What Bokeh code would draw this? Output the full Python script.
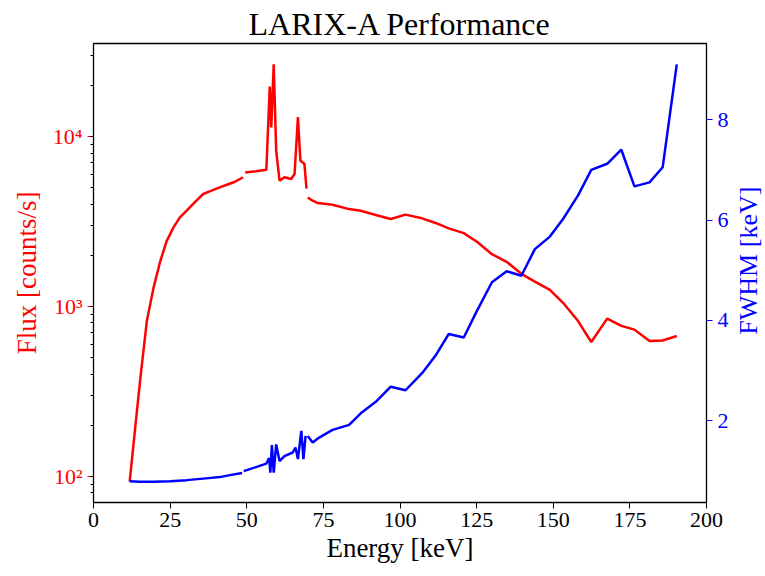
import math
import numpy as np
from bokeh.plotting import figure
from bokeh.layouts import row
from bokeh.models import Range1d, LinearAxis, LinearScale, FixedTicker, LogTicker, CustomJSTickFormatter
from bokeh.core.properties import value
from bokeh.embed import file_html
from bokeh.resources import INLINE

# ---- data ----
flux_e1 = [11.8, 13.6, 15.3, 17.4, 19.6, 21.8, 23.9, 26.1, 28.2, 30.4, 33.0, 35.8, 38.5, 41.2, 43.5, 46.0, 48.8]
flux_v1 = [93, 193, 380, 820, 1290, 1850, 2430, 2920, 3340, 3660, 4100, 4590, 4800, 5020, 5200, 5400, 5760]
flux_e2 = [49.5, 53.0, 56.4, 57.5, 58.0, 58.8, 59.6, 60.7, 62.3, 64.5, 65.6, 66.7, 67.5, 68.8, 69.5]
flux_v2 = [6150, 6250, 6380, 19700, 11300, 26600, 8260, 5500, 5760, 5630, 6020, 13000, 7210, 6920, 4930]
flux_e3 = [69.9, 71.5, 73.2, 78.0, 83.4, 87.2, 92.1, 97.0, 101.8, 107.2, 111.6, 115.9, 120.8, 125.1,
           130.0, 134.8, 139.6, 144.0, 148.9, 153.2, 158.1, 162.4, 167.6, 172.2, 176.5, 181.4, 185.7, 190.3]
flux_v3 = [4380, 4190, 4060, 3970, 3740, 3660, 3450, 3270, 3470, 3300, 3100, 2880, 2700, 2400,
           2030, 1830, 1555, 1400, 1250, 1050, 820, 617, 847, 768, 730, 625, 630, 670]

fwhm_e1 = [11.8, 15.0, 19.6, 25.0, 30.4, 35.8, 41.2, 44.5, 48.5]
fwhm_v1 = [0.80, 0.79, 0.79, 0.80, 0.82, 0.85, 0.88, 0.92, 0.96]
fwhm_e2 = [49.0, 53.0, 56.4, 57.3, 57.7, 58.2, 58.8, 59.6, 60.7, 62.3, 65.0, 65.9, 66.7, 67.8, 68.5, 69.2]
fwhm_v2 = [1.00, 1.08, 1.15, 1.26, 0.97, 1.52, 0.97, 1.53, 1.20, 1.30, 1.37, 1.47, 1.24, 1.80, 1.24, 1.70]
fwhm_e3 = flux_e3
fwhm_v3 = [1.70, 1.57, 1.65, 1.82, 1.92, 2.15, 2.38, 2.68, 2.61, 2.95, 3.30, 3.73, 3.66, 4.19,
           4.76, 4.98, 4.89, 5.42, 5.67, 6.02, 6.49, 7.00, 7.12, 7.40, 6.67, 6.75, 7.05, 9.10]

x_ticks = [0, 25, 50, 75, 100, 125, 150, 175, 200]
fwhm_ticks = [2, 4, 6, 8]

FONT = "Liberation Serif"

def join(*segs):
    out = []
    for i, s in enumerate(segs):
        if i:
            out.append(np.nan)
        out.extend(s)
    return np.array(out, dtype=float)

energy_flux = join(flux_e1, flux_e2, flux_e3)
flux = join(flux_v1, flux_v2, flux_v3)
energy_fwhm = join(fwhm_e1, fwhm_e2, fwhm_e3)
fwhm = join(fwhm_v1, fwhm_v2, fwhm_v3)

# ranges with matplotlib-like 5% margins
lf = np.log10(np.nanmin(flux)), np.log10(np.nanmax(flux))
m = 0.05 * (lf[1] - lf[0])
y0, y1 = 10 ** (lf[0] - m), 10 ** (lf[1] + m)
fmin, fmax = np.nanmin(fwhm), np.nanmax(fwhm)
m2 = 0.05 * (fmax - fmin)
r_lo, r_hi = fmin - m2, fmax + m2

H = 576
W_MAIN, W_SIDE = 731, 34
BL, BR, BT, BB = 93, 22, 43, 74

p = figure(width=W_MAIN, height=H, y_axis_type="log",
           x_range=Range1d(0, 200), y_range=Range1d(y0, y1),
           output_backend="svg", toolbar_location=None,
           min_border_left=BL, min_border_right=BR, min_border_top=BT, min_border_bottom=BB)
p.extra_y_ranges = {"fwhm": Range1d(r_lo, r_hi)}
p.extra_y_scales = {"fwhm": LinearScale()}

p.title.text = "LARIX-A Performance"
p.title.align = "center"
p.title.text_font = FONT
p.title.text_font_size = "32px"
p.title.text_font_style = "normal"
p.title.text_color = "black"
p.title.standoff = 3
p.title.offset = 17  # keep title centred over the frame (side panel widens the page)

p.xgrid.visible = False
p.ygrid.visible = False
p.outline_line_color = "black"
p.outline_line_width = 1.3
p.background_fill_color = "white"
p.border_fill_color = "white"

# x axis
xa = p.xaxis[0]
xa.ticker = FixedTicker(ticks=x_ticks)
xa.axis_label = "Energy [keV]"
xa.axis_label_text_color = "black"
xa.axis_label_text_font = FONT
xa.axis_label_text_font_style = "normal"
xa.axis_label_text_font_size = "27px"
xa.axis_label_standoff = 3
xa.major_label_text_color = "black"
xa.major_label_text_font = FONT
xa.major_label_text_font_size = "22px"
xa.major_label_standoff = 4
xa.major_tick_line_color = "black"
xa.major_tick_out = 6
xa.major_tick_in = 0
xa.minor_tick_line_color = None
xa.axis_line_color = "black"

# left log axis
ya = p.yaxis[0]
ya.ticker = LogTicker(num_minor_ticks=10)
ya.formatter = CustomJSTickFormatter(code="""
const sup = {'0':'\u2070','1':'\u00b9','2':'\u00b2','3':'\u00b3','4':'\u2074','5':'\u2075','6':'\u2076','7':'\u2077','8':'\u2078','9':'\u2079'};
const e = Math.round(Math.log10(tick));
return '10' + String(e).split('').map(c => sup[c]).join('');
""")
ya.axis_label = "Flux [counts/s]"
ya.axis_label_text_color = "red"
ya.axis_label_text_font = FONT
ya.axis_label_text_font_style = "normal"
ya.axis_label_text_font_size = "27px"
ya.axis_label_standoff = 8
ya.major_label_text_color = "red"
ya.major_label_text_font = FONT
ya.major_label_text_font_size = "22px"
ya.major_label_standoff = 5
ya.major_tick_line_color = "red"
ya.major_tick_out = 6
ya.major_tick_in = 0
ya.minor_tick_out = 3
ya.minor_tick_in = 0
ya.minor_tick_line_color = "black"
ya.axis_line_color = "black"

# right linear axis
ra = LinearAxis(y_range_name="fwhm", ticker=FixedTicker(ticks=fwhm_ticks))
ra.major_label_text_color = "blue"
ra.major_label_text_font = FONT
ra.major_label_text_font_size = "22px"
ra.major_label_standoff = 5
ra.major_tick_line_color = "blue"
ra.major_tick_out = 6
ra.major_tick_in = 0
ra.minor_tick_line_color = None
ra.axis_line_color = "black"
p.add_layout(ra, "right")

p.line(energy_flux, flux, line_color="#ff0000", line_width=2.5)
p.line(energy_fwhm, fwhm, line_color="#0000ff", line_width=2.5, y_range_name="fwhm")

# narrow side panel holding the right-axis title, reading bottom-to-top
frame_h = H - BT - BB
side = figure(width=W_SIDE, height=H, x_range=Range1d(0, W_SIDE), y_range=Range1d(0, H),
              output_backend="svg", toolbar_location=None,
              x_axis_location=None, y_axis_location=None,
              min_border_left=0, min_border_right=0, min_border_top=0, min_border_bottom=0)
side.outline_line_color = None
side.xgrid.visible = False
side.ygrid.visible = False
side.background_fill_color = "white"
side.border_fill_color = "white"
side.text(x=[W_SIDE / 2], y=[H - (BT + frame_h / 2)], text=["FWHM [keV]"], angle=math.pi / 2,
          text_align="center", text_baseline="middle",
          text_font=value(FONT), text_font_size="26px", text_color="blue")

layout = row(p, side, spacing=0)
open("out.html", "w").write(file_html(layout, INLINE))
